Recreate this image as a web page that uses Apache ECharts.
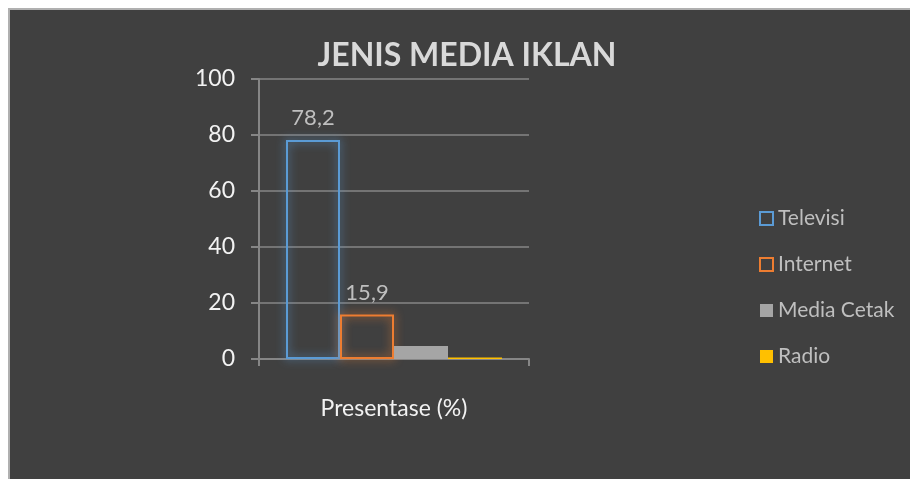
<!DOCTYPE html>
<html lang="id">
<head>
    <meta charset="UTF-8">
    <title>Jenis Media Iklan</title>
    <style type="text/css">
        html, body {
            margin: 0;
            padding: 0;
            background: #ffffff;
            overflow: hidden;
        }
        #chart {
            position: absolute;
            left: 8px;
            top: 8px;
            width: 902px;
            height: 471px;
            border-left: 2px solid #b0b0b0;
            border-top: 2px solid #b0b0b0;
            box-sizing: border-box;
        }
    </style>
</head>
<body>
    <div id="chart"></div>
    <script src="https://cdn.jsdelivr.net/npm/echarts@6/dist/echarts.min.js"></script>
    <script type="text/javascript">
        var categories = ['Presentase (%)'];
        var seriesNames = ['Televisi', 'Internet', 'Media Cetak', 'Radio'];
        var seriesValues = [78.2, 15.9, 4.6, 0.5];
        var showLabel = [true, true, false, false];
        var yTicks = [0, 20, 40, 60, 80, 100];

        var colors = ['#5b9bd5', '#ed7d31', '#a5a5a5', '#ffc000'];
        var outlined = [true, true, false, false];
        var font = 'Lato, "Open Sans", sans-serif';

        var series = [];
        for (var i = 0; i < seriesNames.length; i++) {
            var style;
            if (outlined[i]) {
                style = {
                    color: 'rgba(0,0,0,0)',
                    borderColor: colors[i],
                    borderWidth: 2,
                    shadowBlur: 10,
                    shadowColor: colors[i]
                };
            } else {
                style = { color: colors[i] };
            }
            series.push({
                name: seriesNames[i],
                type: 'bar',
                data: [seriesValues[i]],
                barGap: 0,
                barCategoryGap: '20%',
                itemStyle: style,
                label: {
                    show: showLabel[i],
                    position: 'top',
                    distance: 11,
                    color: '#bfbfbf',
                    fontSize: 22,
                    fontFamily: font,
                    formatter: function (p) {
                        return String(p.value).replace('.', ',');
                    }
                }
            });
        }

        var myChart = echarts.init(document.getElementById('chart'));
        var option = {
            backgroundColor: '#404040',
            animation: false,
            title: {
                text: 'JENIS MEDIA IKLAN',
                left: 452,
                top: 25,
                textAlign: 'center',
                textStyle: {
                    color: '#d9d9d9',
                    fontSize: 32,
                    fontWeight: 'bold',
                    fontFamily: font
                }
            },
            legend: {
                orient: 'vertical',
                left: 744,
                top: 193,
                itemWidth: 13,
                itemHeight: 13,
                itemGap: 25,
                icon: 'rect',
                data: seriesNames,
                textStyle: {
                    color: '#bfbfbf',
                    fontSize: 21,
                    fontFamily: font
                },
                itemStyle: {
                    shadowBlur: 0
                }
            },
            grid: {
                left: 249,
                right: 381,
                top: 69,
                bottom: 120,
                containLabel: false
            },
            xAxis: {
                type: 'category',
                data: categories,
                axisLine: { lineStyle: { color: '#868686', width: 2 } },
                axisTick: { show: true, length: 7, lineStyle: { color: '#868686', width: 2 } },
                axisLabel: {
                    color: '#f2f2f2',
                    fontSize: 23,
                    fontFamily: font,
                    margin: 38
                }
            },
            yAxis: {
                type: 'value',
                min: yTicks[0],
                max: yTicks[yTicks.length - 1],
                interval: 20,
                axisLine: { show: true, lineStyle: { color: '#868686', width: 2 } },
                axisTick: { show: true, length: 8, lineStyle: { color: '#868686', width: 2 } },
                axisLabel: {
                    color: '#f2f2f2',
                    fontSize: 23,
                    fontFamily: font,
                    margin: 24
                },
                splitLine: { lineStyle: { color: '#868686', width: 1.5 } }
            },
            series: series
        };
        myChart.setOption(option);
    </script>
</body>
</html>
